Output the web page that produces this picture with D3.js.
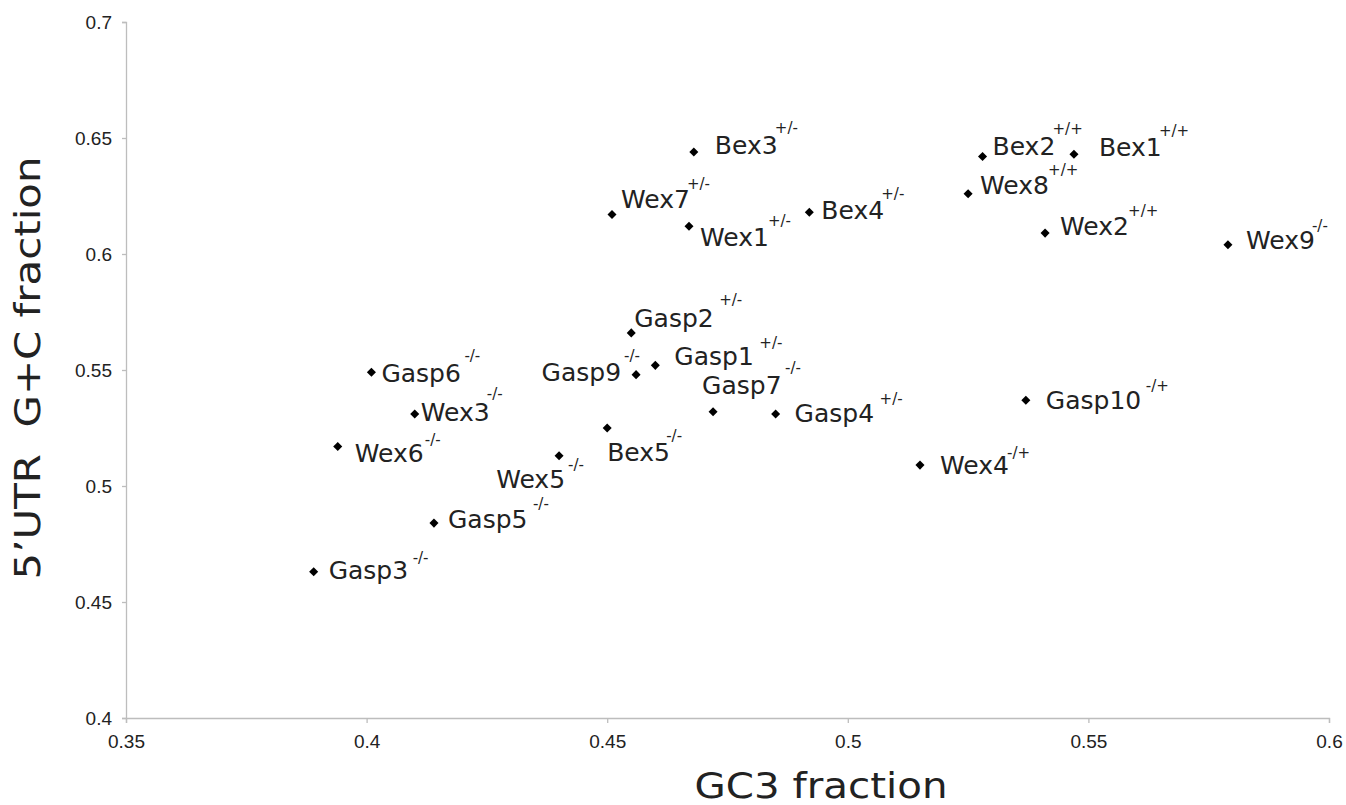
<!DOCTYPE html>
<html>
<head>
<meta charset="utf-8">
<script src="https://cdn.jsdelivr.net/npm/d3@7"></script>
<style>
  html, body { margin: 0; padding: 0; background: #fff; }
  svg { display: block; }
  .tick text { font-family: 'Liberation Sans', Arial, sans-serif; font-size: 19px; }
</style>
</head>
<body>
<svg id="chart" width="1346" height="805"></svg>
<script>
// ---- data ----
const genes     = ["Bex1","Bex2","Bex3","Bex4","Bex5","Wex1","Wex2","Wex3","Wex4","Wex5","Wex6","Wex7","Wex8","Wex9","Gasp1","Gasp2","Gasp3","Gasp4","Gasp5","Gasp6","Gasp7","Gasp9","Gasp10"];
const genotypes = ["+/+","+/+","+/-","+/-","-/-","+/-","+/+","-/-","-/+","-/-","-/-","+/-","+/+","-/-","+/-","+/-","-/-","+/-","-/-","-/-","-/-","-/-","-/+"];
const gc3       = [0.547,0.528,0.468,0.492,0.450,0.467,0.541,0.410,0.515,0.440,0.394,0.451,0.525,0.579,0.460,0.455,0.389,0.485,0.414,0.401,0.472,0.456,0.537];
const utrGC     = [0.643,0.642,0.644,0.618,0.525,0.612,0.609,0.531,0.509,0.513,0.517,0.617,0.626,0.604,0.552,0.566,0.463,0.531,0.484,0.549,0.532,0.548,0.537];
const xTicks    = [0.35,0.4,0.45,0.5,0.55,0.6];
const yTicks    = [0.4,0.45,0.5,0.55,0.6,0.65,0.7];
const xTitle    = "GC3 fraction";
const yTitle    = "5\u2019UTR  G+C fraction";

// ---- layout (label placement relative to each marker) ----
const labelLayout = {
  Gasp6:{t:[10,10],s:[93,-11]}, Wex3:{t:[6,7],s:[72,-15]}, Wex6:{t:[17,15],s:[87,-2]},
  Gasp9:{t:[-15,6],s:[-12,-14],end:true}, Gasp2:{t:[3,-6],s:[88,-28]}, Gasp1:{t:[19,0],s:[104,-17]},
  Gasp7:{t:[-11,-18],s:[72,-39]}, Gasp4:{t:[19,8],s:[104,-10]}, Bex5:{t:[0,33],s:[59,13]},
  Wex5:{t:[6,32],s:[9,14],end:true}, Gasp5:{t:[14,5],s:[99,-14]}, Gasp3:{t:[15,7],s:[99,-9]},
  Bex3:{t:[21,2],s:[81,-19]}, Wex7:{t:[9,-7],s:[75,-26]}, Wex1:{t:[11,20],s:[79,0]},
  Bex4:{t:[12,7],s:[72,-13]}, Bex2:{t:[10,-2],s:[70,-23]}, Bex1:{t:[25,2],s:[85,-18]},
  Wex8:{t:[12,0],s:[80,-19]}, Wex2:{t:[15,2],s:[83,-17]}, Wex9:{t:[18,4],s:[84,-14]},
  Gasp10:{t:[20,9],s:[120,-9]}, Wex4:{t:[20,9],s:[87,-7]}
};

const svg = d3.select("#chart");
const x = d3.scaleLinear().domain([0.35, 0.6]).range([126, 1329]);
const y = d3.scaleLinear().domain([0.4, 0.7]).range([718, 22]);

const axisColor = "#bdbdbd";
const labelFont = "'DejaVu Sans', sans-serif";

// x axis
const gx = svg.append("g").attr("transform", `translate(0,${y(0.4)})`)
  .call(d3.axisBottom(x).tickValues(xTicks).tickSize(5).tickPadding(12).tickFormat(d3.format("")));
gx.attr("font-size", null).attr("font-family", null);
gx.select(".domain").attr("stroke", axisColor).attr("stroke-width", 1.3);
gx.selectAll(".tick line").attr("stroke", axisColor).attr("stroke-width", 1.3);
gx.selectAll(".tick text").attr("fill", "#222");

// y axis
const gy = svg.append("g").attr("transform", `translate(${x(0.35)},0)`)
  .call(d3.axisLeft(y).tickValues(yTicks).tickSize(4).tickPadding(10).tickFormat(d3.format("")));
gy.attr("font-size", null).attr("font-family", null);
gy.select(".domain").attr("stroke", axisColor).attr("stroke-width", 1.3);
gy.selectAll(".tick line").attr("stroke", axisColor).attr("stroke-width", 1.3);
gy.selectAll(".tick text").attr("fill", "#222");

// axis titles
svg.append("text").attr("x", 821).attr("y", 798)
  .attr("text-anchor", "middle").attr("font-family", labelFont).attr("font-size", 36)
  .attr("fill", "#222").attr("textLength", 253).attr("lengthAdjust", "spacingAndGlyphs")
  .text(xTitle);
svg.append("text").attr("transform", "translate(40,368) rotate(-90)")
  .attr("text-anchor", "middle").attr("font-family", labelFont).attr("font-size", 36)
  .attr("fill", "#222").attr("textLength", 423).attr("lengthAdjust", "spacingAndGlyphs")
  .style("white-space", "pre")
  .text(yTitle);

// points
const pts = genes.map((g, i) => ({ name: g, geno: genotypes[i], gx: gc3[i], gy: utrGC[i] }));
const diamond = d3.symbol().type(d3.symbolDiamond2).size(52);

svg.append("g").selectAll("path").data(pts).join("path")
  .attr("d", diamond)
  .attr("transform", d => `translate(${x(d.gx)},${y(d.gy)})`)
  .attr("fill", "#000");

const lab = svg.append("g").attr("font-family", labelFont).attr("fill", "#222");
lab.selectAll("text.main").data(pts).join("text").attr("class", "main")
  .attr("x", d => x(d.gx) + labelLayout[d.name].t[0])
  .attr("y", d => y(d.gy) + labelLayout[d.name].t[1])
  .attr("text-anchor", d => labelLayout[d.name].end ? "end" : "start")
  .attr("font-size", 25)
  .text(d => d.name);
lab.selectAll("text.sup").data(pts).join("text").attr("class", "sup")
  .attr("x", d => x(d.gx) + labelLayout[d.name].s[0])
  .attr("y", d => y(d.gy) + labelLayout[d.name].s[1])
  .attr("font-size", 15)
  .text(d => d.geno);
</script>
</body>
</html>
